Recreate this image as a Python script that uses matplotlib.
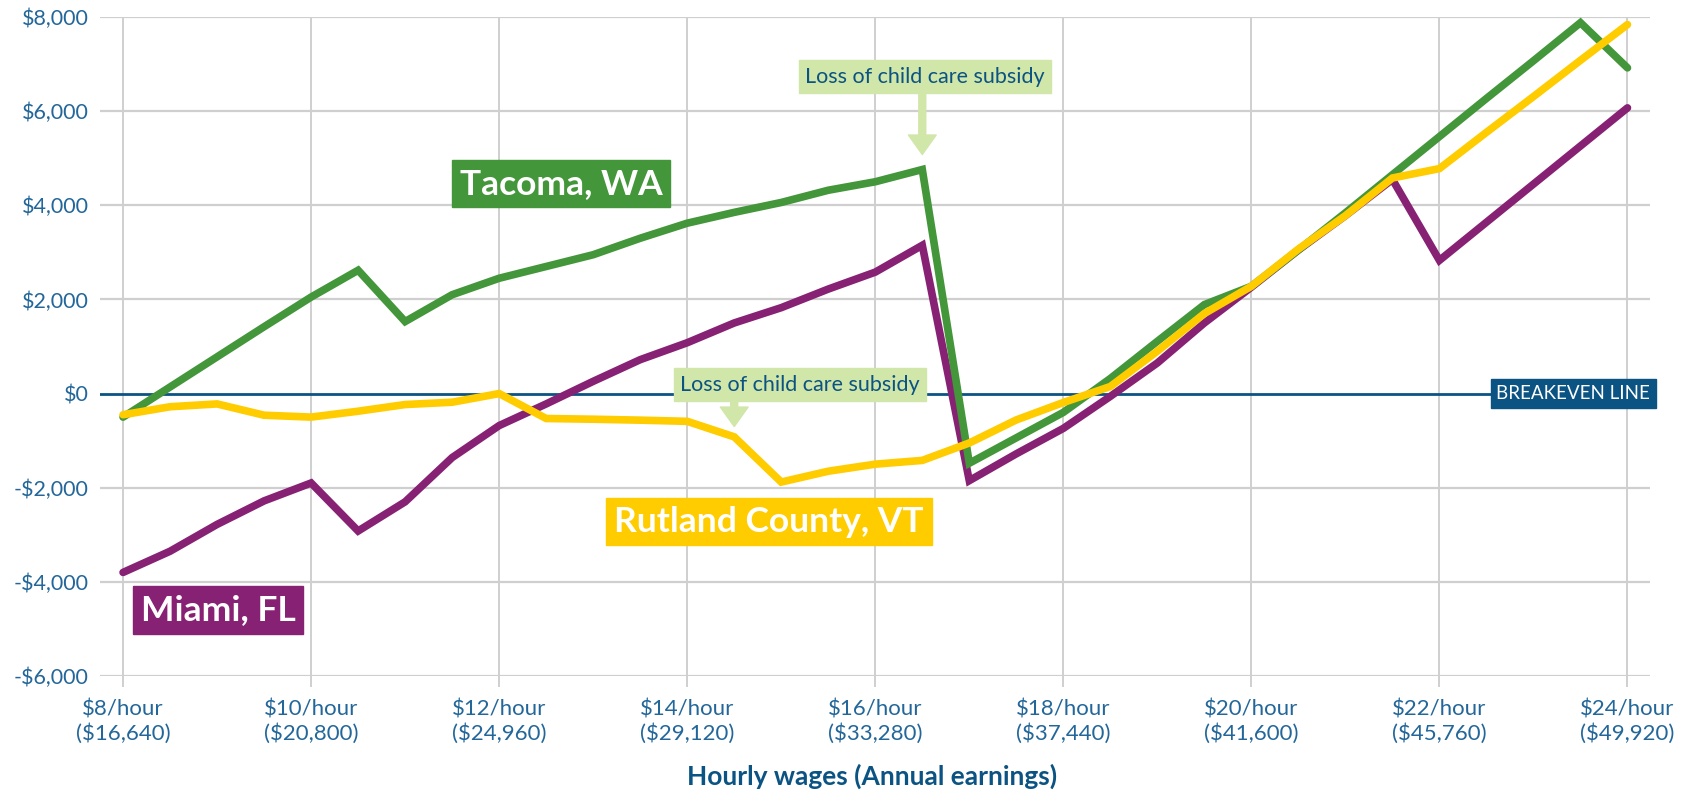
import matplotlib.pyplot as plt
from matplotlib.transforms import blended_transform_factory

plt.rcParams['font.family'] = ['Lato', 'DejaVu Sans']

# hourly wage steps
wages = [8, 8.5, 9, 9.5, 10, 10.5, 11, 11.5, 12, 12.5, 13, 13.5, 14, 14.5, 15, 15.5,
         16, 16.5, 17, 17.5, 18, 18.5, 19, 19.5, 20, 20.5, 21, 21.5, 22, 22.5, 23, 23.5, 24]

tacoma = [-500, 140, 780, 1420, 2050, 2620, 1530, 2100, 2450, 2700, 2950, 3300, 3620, 3850,
          4060, 4320, 4500, 4760, -1480, -940, -400, 320, 1110, 1890, 2280, 3050, 3840, 4650,
          5460, 6270, 7070, 7880, 6920]
miami = [-3800, -3350, -2780, -2280, -1900, -2920, -2300, -1360, -680, -220, 260, 720, 1080, 1500,
         1825, 2220, 2580, 3150, -1850, -1280, -740, -60, 650, 1500, 2260, 3050, 3780, 4550,
         2830, 3640, 4450, 5260, 6070]
rutland = [-450, -280, -220, -460, -500, -375, -233, -184, 0, -530, -545, -565, -590, -920,
           -1880, -1650, -1500, -1420, -1050, -560, -190, 150, 900, 1700, 2280, 3070, 3780, 4580,
           4780, 5550, 6310, 7080, 7840]

tick_wages = [8, 10, 12, 14, 16, 18, 20, 22, 24]
tick_labels = ['$8/hour\n($16,640)', '$10/hour\n($20,800)', '$12/hour\n($24,960)',
               '$14/hour\n($29,120)', '$16/hour\n($33,280)', '$18/hour\n($37,440)',
               '$20/hour\n($41,600)', '$22/hour\n($45,760)', '$24/hour\n($49,920)']
y_ticks = [-6000, -4000, -2000, 0, 2000, 4000, 6000, 8000]
y_labels = ['-$6,000', '-$4,000', '-$2,000', '$0', '$2,000', '$4,000', '$6,000', '$8,000']

GREEN = '#43963a'
PURPLE = '#872173'
YELLOW = '#ffcc00'
BLUE_TXT = '#23679a'
NAVY = '#0b5382'
LIGHT = '#d1e6a9'
GRID = '#cfcfcf'


def main():

    fig = plt.figure(figsize = (16.96, 7.96), dpi = 100)
    ax = fig.add_axes([0.0587, 0.1508, 0.9142, 0.8278])

    ax.set_xlim(7.75, 24.24)
    ax.set_ylim(-6000, 8000)
    for s in ax.spines.values():
        s.set_visible(False)

    for y in y_ticks:
        if y == 0:
            continue
        ax.axhline(y, color = GRID, lw = 1.6, zorder = 0)
    for x in tick_wages:
        ax.axvline(x, color = GRID, lw = 1.4, zorder = 0)

    ax.set_xticks(tick_wages)
    ax.set_xticklabels(tick_labels, fontsize = 16, color = BLUE_TXT, linespacing = 1.2)
    ax.set_yticks(y_ticks)
    ax.set_yticklabels(y_labels, fontsize = 15.5, color = BLUE_TXT)
    ax.tick_params(axis = 'x', length = 8, width = 1.4, color = GRID, pad = 9)
    ax.tick_params(axis = 'y', length = 0, pad = 8)

    # breakeven line
    ax.axhline(0, color = NAVY, lw = 2, zorder = 1)
    trans = blended_transform_factory(ax.transAxes, ax.transData)
    ax.text(1.0, 0, 'BREAKEVEN LINE', transform = trans, ha = 'right', va = 'center',
            fontsize = 13.5, color = 'white', zorder = 6,
            bbox = dict(boxstyle = 'square,pad=0.3', fc = NAVY, ec = NAVY))

    ax.plot(wages, miami, color = PURPLE, lw = 5.5, solid_capstyle = 'round',
            solid_joinstyle = 'miter', zorder = 3)
    ax.plot(wages, tacoma, color = GREEN, lw = 5.5, solid_capstyle = 'round',
            solid_joinstyle = 'miter', zorder = 4)
    ax.plot(wages, rutland, color = YELLOW, lw = 5.5, solid_capstyle = 'round',
            solid_joinstyle = 'miter', zorder = 5)

    # series labels
    box = 'square,pad=0.22'
    ax.text(12.66, 4460, 'Tacoma, WA', ha = 'center', va = 'center', fontsize = 25.5,
            fontweight = 'bold', color = 'white', zorder = 7,
            bbox = dict(boxstyle = box, fc = GREEN, ec = GREEN))
    ax.text(9.01, -4600, 'Miami, FL', ha = 'center', va = 'center', fontsize = 25.5,
            fontweight = 'bold', color = 'white', zorder = 7,
            bbox = dict(boxstyle = box, fc = PURPLE, ec = PURPLE))
    ax.text(14.87, -2720, 'Rutland County, VT', ha = 'center', va = 'center', fontsize = 25.5,
            fontweight = 'bold', color = 'white', zorder = 7,
            bbox = dict(boxstyle = box, fc = YELLOW, ec = YELLOW))

    # child care annotations
    arrow = dict(width = 5, headwidth = 20, headlength = 14, color = LIGHT, shrink = 0)
    for bx, by, ax_x, top, tip in [(16.53, 6730, 16.5, 6350, 5080),
                                   (15.2, 190, 14.5, -170, -700)]:
        ax.text(bx, by, 'Loss of child care subsidy', ha = 'center', va = 'center',
                fontsize = 15.5, color = NAVY, zorder = 8,
                bbox = dict(boxstyle = 'square,pad=0.3', fc = LIGHT, ec = LIGHT))
        ax.annotate('', xy = (ax_x, tip), xytext = (ax_x, top), arrowprops = arrow, zorder = 8)

    fig.text(0.514, 0.025, 'Hourly wages (Annual earnings)', ha = 'center', va = 'center',
             fontsize = 19, fontweight = 'bold', color = NAVY)

    fig.savefig('out.png')


if __name__ == '__main__':
    main()
